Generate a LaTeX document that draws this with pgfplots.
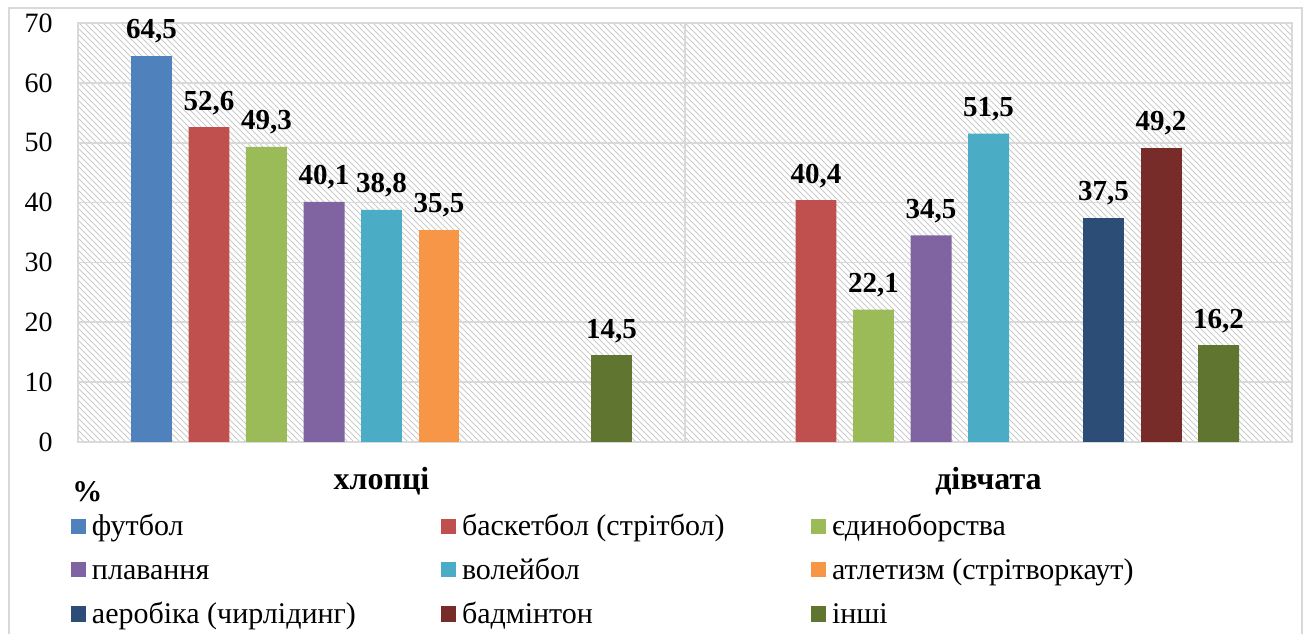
\documentclass[border=0pt]{standalone}
\usepackage{fontspec}
\setmainfont{Liberation Serif}
\usepackage{pgfplots}
\pgfplotsset{compat=1.18}
\usetikzlibrary{patterns}
\definecolor{c1}{HTML}{4F81BD}
\definecolor{c2}{HTML}{C0504D}
\definecolor{c3}{HTML}{9BBB59}
\definecolor{c4}{HTML}{8064A2}
\definecolor{c5}{HTML}{4BACC6}
\definecolor{c6}{HTML}{F79646}
\definecolor{c7}{HTML}{2C4D75}
\definecolor{c8}{HTML}{772C2A}
\definecolor{c9}{HTML}{5F7530}
\pgfplotsset{sqbar/.style={ybar, bar width=0.0675, bar shift=0, draw=none,
  legend image code/.code={\fill[##1] (0pt,-3.75pt) rectangle (7.5pt,3.75pt);}}}
\newcommand{\lent}[1]{\hspace*{3pt}\makebox[174.5pt][l]{\rule[-6pt]{0pt}{22pt}#1}}
\begin{document}
\begin{tikzpicture}
\begin{axis}[
  width=607pt, height=209.5pt, scale only axis,
  xmin=-0.5, xmax=1.5, ymin=0, ymax=70,
  xtick={0,1}, xticklabels={хлопці, дівчата},
  minor xtick={0.5}, xminorgrids=true,
  ytick={0,10,...,70}, ymajorgrids=true,
  major tick length=0pt, minor tick length=0pt,
  axis line style={black!15, line width=0.8pt},
  major grid style={black!15, line width=0.8pt},
  minor grid style={black!15, line width=0.8pt},
  axis background/.style={pattern=north west lines, pattern color=black!20},
  /pgf/number format/assume math mode=true,
  yticklabel style={font=\fontsize{14}{16}\selectfont, anchor=east, inner sep=0pt, xshift=-12.5pt},
  xticklabel style={font=\bfseries\fontsize{16}{19}\selectfont, anchor=base, inner sep=0pt, yshift=-24pt},
  ylabel={\%},
  every axis y label/.style={at={(axis description cs:0,0)}, anchor=west, inner sep=0pt, xshift=-3pt, yshift=-25pt, font=\bfseries\fontsize{15}{18}\selectfont},
  nodes near coords={\pgfmathprintnumber[fixed, fixed zerofill, precision=1, use comma, assume math mode=true]{\pgfplotspointmeta}},
  every node near coord/.append style={font=\bfseries\fontsize{14.5}{17}\selectfont, anchor=base, inner sep=0pt, yshift=8.5pt, text=black},
  legend columns=3,
  legend cell align=left,
  legend style={at={(0,0)}, anchor=north west, xshift=-3.5pt, yshift=-31pt, draw=none, fill=none, inner sep=0pt, outer sep=0pt, column sep=0pt, row sep=0pt, font=\fontsize{15}{18}\selectfont, nodes={inner sep=0pt, text depth=6pt}},
]
\addplot[sqbar, fill=c1] coordinates {(-0.3789,64.5)};
\addlegendentry{\lent{футбол}}
\addplot[sqbar, fill=c2] coordinates {(-0.2842,52.6) (0.7158,40.4)};
\addlegendentry{\lent{баскетбол (стрітбол)}}
\addplot[sqbar, fill=c3] coordinates {(-0.1895,49.3) (0.8105,22.1)};
\addlegendentry{\lent{єдиноборства}}
\addplot[sqbar, fill=c4] coordinates {(-0.0947,40.1) (0.9053,34.5)};
\addlegendentry{\lent{плавання}}
\addplot[sqbar, fill=c5] coordinates {(0,38.8) (1,51.5)};
\addlegendentry{\lent{волейбол}}
\addplot[sqbar, fill=c6] coordinates {(0.0947,35.5)};
\addlegendentry{\lent{атлетизм (стрітворкаут)}}
\addplot[sqbar, fill=c7] coordinates {(1.1895,37.5)};
\addlegendentry{\lent{аеробіка (чирлідинг)}}
\addplot[sqbar, fill=c8] coordinates {(1.2842,49.2)};
\addlegendentry{\lent{бадмінтон}}
\addplot[sqbar, fill=c9] coordinates {(0.3789,14.5) (1.3789,16.2)};
\addlegendentry{\lent{інші}}
\coordinate (SW) at (rel axis cs:0,0);
\coordinate (NE) at (rel axis cs:1,1);
\coordinate (NW) at (rel axis cs:0,1);
\coordinate (SE) at (rel axis cs:1,0);
\end{axis}
\draw[black!15, line width=1pt] ([xshift=-34.5pt,yshift=-120pt]SW) -- ([xshift=-34.5pt,yshift=7.5pt]NW) -- ([xshift=5pt,yshift=7.5pt]NE) -- ([xshift=5pt,yshift=-120pt]SE);
\pgfresetboundingbox
\useasboundingbox ([xshift=-39pt,yshift=-96pt]SW) rectangle ([xshift=8pt,yshift=11.5pt]NE);
\end{tikzpicture}
\end{document}
